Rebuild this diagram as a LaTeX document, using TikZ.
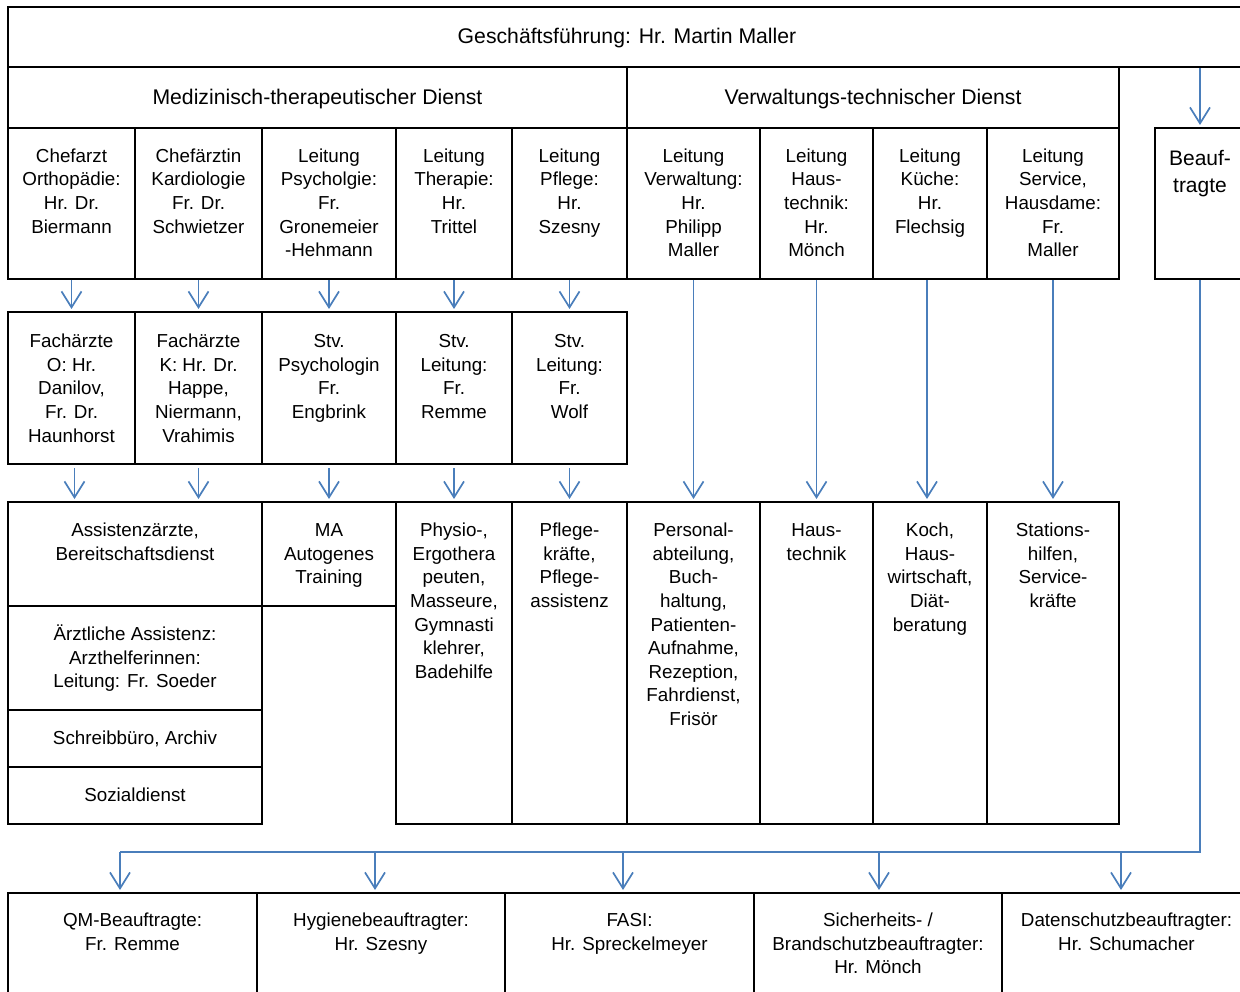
\documentclass[tikz,border=0pt]{standalone}
\usepackage{fontspec}
\setmainfont{Liberation Sans}
\usetikzlibrary{arrows.meta}
\definecolor{arrblue}{RGB}{74,126,187}
\tikzset{
  box/.style={draw=black, line width=2pt, inner sep=0pt, rectangle},
  txt/.style={align=center, inner sep=0pt, anchor=north, font=\fontsize{18.8}{23.6}\selectfont},
  bigtxt/.style={font=\fontsize{21.2}{25}\selectfont, text height=18pt, text depth=4pt},
  arr/.style={draw=arrblue, line width=1.7pt, -{Straight Barb[length=16pt,width=20pt]}, shorten >=2pt},
  busline/.style={draw=arrblue, line width=1.7pt},
}
\newcommand\cellbox[5]{\node[box, minimum width={#4-#2}, minimum height={#5-#3}] (#1) at ({(#2+#4)/2},{(#3+#5)/2}) {};}
\newcommand\celltext[3][19]{\node[txt] (#2-t) at ([yshift=-#1pt]#2.north) {\strut#3};}
\begin{document}
\begin{tikzpicture}[x=1pt,y=-1pt]
\useasboundingbox (0,0) rectangle (1240,992);
% top rows
\node[box, bigtxt, minimum width=1238, minimum height=60] (gf) at (627,37) {Geschäftsführung: Hr. Martin Maller};
\node[box, bigtxt, minimum width=619, minimum height=61] (med) at (317.5,97.5) {Medizinisch-therapeutischer Dienst};
\node[box, bigtxt, minimum width=492, minimum height=61] (verw) at (873,97.5) {Verwaltungs-technischer Dienst};
% row 3
\cellbox{c1}{8}{128}{135}{279}
\cellbox{c2}{135}{128}{262}{279}
\cellbox{c3}{262}{128}{396}{279}
\cellbox{c4}{396}{128}{512}{279}
\cellbox{c5}{512}{128}{627}{279}
\cellbox{c6}{627}{128}{760}{279}
\cellbox{c7}{760}{128}{873}{279}
\cellbox{c8}{873}{128}{987}{279}
\cellbox{c9}{987}{128}{1119}{279}
\cellbox{beauf}{1155}{128}{1245}{279}
\celltext[18.5]{c1}{Chefarzt\\Orthopädie:\\Hr. Dr.\\Biermann}
\celltext[18.5]{c2}{Chefärztin\\Kardiologie\\Fr. Dr.\\Schwietzer}
\celltext[18.5]{c3}{Leitung\\Psycholgie:\\Fr.\\Gronemeier\\-Hehmann}
\celltext[18.5]{c4}{Leitung\\Therapie:\\Hr.\\Trittel}
\celltext[18.5]{c5}{Leitung\\Pflege:\\Hr.\\Szesny}
\celltext[18.5]{c6}{Leitung\\Verwaltung:\\Hr.\\Philipp\\Maller}
\celltext[18.5]{c7}{Leitung\\Haus-\\technik:\\Hr.\\Mönch}
\celltext[18.5]{c8}{Leitung\\Küche:\\Hr.\\Flechsig}
\celltext[18.5]{c9}{Leitung\\Service,\\Hausdame:\\Fr.\\Maller}
\node[txt, font=\fontsize{21}{27}\selectfont] (beauf-t) at ([yshift=-19pt]beauf.north) {\strut Beauf-\\tragte};
% row 4
\cellbox{d1}{8}{312}{135}{464}
\cellbox{d2}{135}{312}{262}{464}
\cellbox{d3}{262}{312}{396}{464}
\cellbox{d4}{396}{312}{512}{464}
\cellbox{d5}{512}{312}{627}{464}
\celltext[20]{d1}{Fachärzte\\O: Hr.\\Danilov,\\Fr. Dr.\\Haunhorst}
\celltext[20]{d2}{Fachärzte\\K: Hr. Dr.\\Happe,\\Niermann,\\Vrahimis}
\celltext[20]{d3}{Stv.\\Psychologin\\Fr.\\Engbrink}
\celltext[20]{d4}{Stv.\\Leitung:\\Fr.\\Remme}
\celltext[20]{d5}{Stv.\\Leitung:\\Fr.\\Wolf}
% row 5
\cellbox{assi}{8}{502}{262}{606}
\cellbox{aerztl}{8}{606}{262}{710}
\cellbox{schreib}{8}{710}{262}{767}
\cellbox{sozial}{8}{767}{262}{824}
\cellbox{ma}{262}{502}{396}{606}
\cellbox{physio}{396}{502}{512}{824}
\cellbox{pflege}{512}{502}{627}{824}
\cellbox{personal}{627}{502}{760}{824}
\cellbox{haus}{760}{502}{873}{824}
\cellbox{koch}{873}{502}{987}{824}
\cellbox{stations}{987}{502}{1119}{824}
\celltext{assi}{Assistenzärzte,\\Bereitschaftsdienst}
\celltext{aerztl}{Ärztliche Assistenz:\\Arzthelferinnen:\\Leitung: Fr. Soeder}
\celltext{schreib}{Schreibbüro, Archiv}
\celltext{sozial}{Sozialdienst}
\celltext{ma}{MA\\Autogenes\\Training}
\celltext{physio}{Physio-,\\Ergothera\\peuten,\\Masseure,\\Gymnasti\\klehrer,\\Badehilfe}
\celltext{pflege}{Pflege-\\kräfte,\\Pflege-\\assistenz}
\celltext{personal}{Personal-\\abteilung,\\Buch-\\haltung,\\Patienten-\\Aufnahme,\\Rezeption,\\Fahrdienst,\\Frisör}
\celltext{haus}{Haus-\\technik}
\celltext{koch}{Koch,\\Haus-\\wirtschaft,\\Diät-\\beratung}
\celltext{stations}{Stations-\\hilfen,\\Service-\\kräfte}
% bottom row
\cellbox{qm}{8}{893}{257}{1010}
\cellbox{hyg}{257}{893}{505}{1010}
\cellbox{fasi}{505}{893}{754}{1010}
\cellbox{sich}{754}{893}{1002}{1010}
\cellbox{daten}{1002}{893}{1251}{1010}
\celltext[18]{qm}{QM-Beauftragte:\\Fr. Remme}
\celltext[18]{hyg}{Hygienebeauftragter:\\Hr. Szesny}
\celltext[18]{fasi}{FASI:\\Hr. Spreckelmeyer}
\celltext[18]{sich}{Sicherheits- /\\Brandschutzbeauftragter:\\Hr. Mönch}
\celltext[18]{daten}{Datenschutzbeauftragter:\\Hr. Schumacher}
% arrows row 3 -> row 4
\foreach \a/\b in {c1/d1,c2/d2,c3/d3,c4/d4,c5/d5}
  \draw[arr] (\a.south) -- (\b.north);
% arrows row 4 -> row 5
\draw[arr, shorten <=3pt] ([xshift=3pt]d1.south) -- ([xshift=3pt]d1.south |- assi.north);
\draw[arr, shorten <=3pt] (d2.south) -- (d2.south |- assi.north);
\draw[arr, shorten <=3pt] (d3.south) -- (ma.north);
\draw[arr, shorten <=3pt] (d4.south) -- (physio.north);
\draw[arr, shorten <=3pt] (d5.south) -- (pflege.north);
% long arrows
\draw[arr] (c6.south) -- (personal.north);
\draw[arr] (c7.south) -- (haus.north);
\draw[arr] ([xshift=-3pt]c8.south) -- ([xshift=-3pt]koch.north);
\draw[arr] (c9.south) -- (stations.north);
% Beauftragte
\draw[arr] (gf.south -| beauf.north) -- (beauf.north);
\coordinate (busR) at (1200,852);
\path ([xshift=-12.5pt]qm.north) coordinate (t1)
      ([xshift=-6pt]hyg.north) coordinate (t2)
      ([xshift=-6.5pt]fasi.north) coordinate (t3)
      ([xshift=1pt]sich.north) coordinate (t4)
      ([xshift=-5.5pt]daten.north) coordinate (t5);
\draw[busline] (beauf.south) -- (busR) -- (busR -| t1);
\foreach \t in {t1,t2,t3,t4,t5}
  \draw[arr] (busR -| \t) -- (\t);
\end{tikzpicture}
\end{document}
